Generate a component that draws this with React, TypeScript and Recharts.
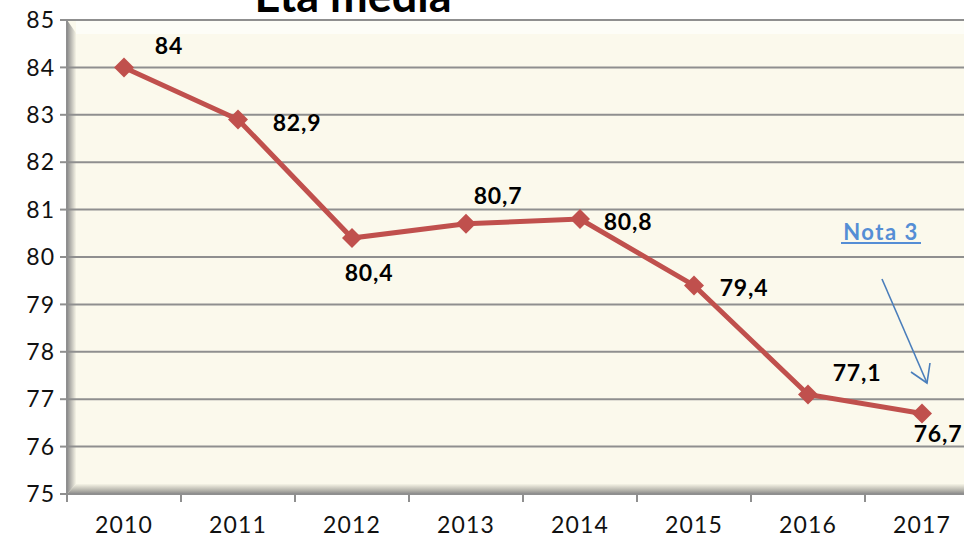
import * as React from "react"
import { LineChart, Line, XAxis, YAxis, CartesianGrid } from "recharts"

// dati
const YEARS = ["2010", "2011", "2012", "2013", "2014", "2015", "2016", "2017"]
const ETA_MEDIA = [84, 82.9, 80.4, 80.7, 80.8, 79.4, 77.1, 76.7]
const Y_TICKS = [75, 76, 77, 78, 79, 80, 81, 82, 83, 84, 85]

// posizione delle etichette rispetto al punto (dx, dy)
const LABEL_OFFSETS: Array<[number, number]> = [
  [45, -22], [59, 2], [17, 34], [32, -29], [48, 2], [50, 2], [49, -22], [16, 20],
]

const data = YEARS.map((anno, i) => ({ anno, eta: ETA_MEDIA[i] }))

const W = 964
const H = 538
const CHART_W = 1000
const PLOT_L = 67
const PLOT_T = 20
const PLOT_B = 494
const PLOT_R = 979
const BAND = (PLOT_R - PLOT_L) / YEARS.length

const FONT = "Lato, 'Open Sans', sans-serif"
const RED = "#C0504D"
const GRID = "#8f8f8f"

const fmt = (v: number) => String(v).replace(".", ",")

function Diamond(props: any) {
  const { cx, cy, index } = props
  if (cx == null || cy == null) return null
  const r = 10
  return (
    <polygon
      key={index}
      points={`${cx},${cy - r} ${cx + r},${cy} ${cx},${cy + r} ${cx - r},${cy}`}
      fill={RED}
    />
  )
}

function ValueLabel(props: any) {
  const { x, y, value, index } = props
  const [dx, dy] = LABEL_OFFSETS[index] || [0, -15]
  return (
    <text
      x={x + dx}
      y={y + dy}
      textAnchor="middle"
      dominantBaseline="central"
      fontFamily={FONT}
      fontWeight={700}
      fontSize={23}
      letterSpacing={0.8}
      fill="#000"
    >
      {fmt(value)}
    </text>
  )
}

function YearTick(props: any) {
  const { x, payload } = props
  return (
    <g>
      <line x1={x - BAND / 2} x2={x - BAND / 2} y1={PLOT_B} y2={PLOT_B + 8} stroke={GRID} strokeWidth={2} />
      <text x={x} y={533} textAnchor="middle" fontFamily={FONT} fontSize={23} letterSpacing={1.2} fill="#111">
        {payload.value}
      </text>
    </g>
  )
}

function Background() {
  return (
    <svg width={W} height={H} style={{ position: "absolute", left: 0, top: 0 }}>
      <defs>
        <linearGradient id="wall" x1="0" y1="0" x2="1" y2="0">
          <stop offset="0%" stopColor="#8a8a8a" />
          <stop offset="100%" stopColor="#f6f4e6" />
        </linearGradient>
        <linearGradient id="floor" x1="0" y1="0" x2="0" y2="1">
          <stop offset="0%" stopColor="#f6f4e6" />
          <stop offset="60%" stopColor="#b8b7ae" />
          <stop offset="100%" stopColor="#8a8a8a" />
        </linearGradient>
      </defs>
      <rect x={PLOT_L} y={PLOT_T} width={PLOT_R - PLOT_L} height={PLOT_B - PLOT_T} fill="#FBF9EC" />
      <rect x={PLOT_L + 9} y={PLOT_T} width={PLOT_R - PLOT_L} height={14} fill="#FDFDF7" />
      <polygon
        points={`${PLOT_L},${PLOT_T} ${PLOT_L + 9},${PLOT_T + 13} ${PLOT_L + 9},${PLOT_B - 10} ${PLOT_L},${PLOT_B}`}
        fill="url(#wall)"
      />
      <polygon
        points={`${PLOT_L},${PLOT_B} ${PLOT_L + 9},${PLOT_B - 10} ${PLOT_R},${PLOT_B - 10} ${PLOT_R},${PLOT_B}`}
        fill="url(#floor)"
      />
    </svg>
  )
}

function Overlay() {
  const blue = "#4A7EBB"
  return (
    <svg width={W} height={H} style={{ position: "absolute", left: 0, top: 0, pointerEvents: "none" }}>
      <text x={353} y={12} textAnchor="middle" fontFamily={FONT} fontWeight={700} fontSize={45} fill="#000">
        Età media
      </text>
      <text x={881} y={240} textAnchor="middle" fontFamily={FONT} fontWeight={700} fontSize={22} letterSpacing={1.5} fill="#558ED5">
        Nota 3
      </text>
      <line x1={841} x2={921} y1={243} y2={243} stroke="#558ED5" strokeWidth={2} />
      <g stroke={blue} strokeWidth={1.6} fill="none">
        <line x1={882} y1={279} x2={927} y2={383} />
        <polyline points="911,372 927,383 930,363" />
      </g>
    </svg>
  )
}

export default function App() {
  return (
    <div style={{ position: "absolute", left: 0, top: 0, width: W, height: H, overflow: "hidden", background: "#fff" }}>
      <Background />
      <div style={{ position: "absolute", left: 0, top: 0 }}>
        <LineChart
          width={CHART_W}
          height={H}
          data={data}
          margin={{ top: PLOT_T, right: CHART_W - PLOT_R, bottom: 0, left: 0 }}
        >
          <CartesianGrid horizontal vertical={false} stroke={GRID} strokeWidth={2} fill="none" />
          <XAxis
            dataKey="anno"
            height={H - PLOT_B}
            padding={{ left: BAND / 2, right: BAND / 2 }}
            axisLine={{ stroke: GRID, strokeWidth: 2 }}
            tickLine={false}
            tick={<YearTick />}
            interval={0}
          />
          <YAxis
            width={PLOT_L}
            domain={[75, 85]}
            ticks={Y_TICKS}
            interval={0}
            axisLine={{ stroke: GRID, strokeWidth: 2 }}
            tickLine={{ stroke: GRID, strokeWidth: 2 }}
            tickSize={7}
            tickMargin={5}
            tick={{ fontFamily: FONT, fontSize: 23, fill: "#111", letterSpacing: 1 }}
          />
          <Line
            type="linear"
            dataKey="eta"
            stroke={RED}
            strokeWidth={5}
            dot={<Diamond />}
            activeDot={false}
            label={<ValueLabel />}
            isAnimationActive={false}
          />
        </LineChart>
      </div>
      <Overlay />
    </div>
  )
}
